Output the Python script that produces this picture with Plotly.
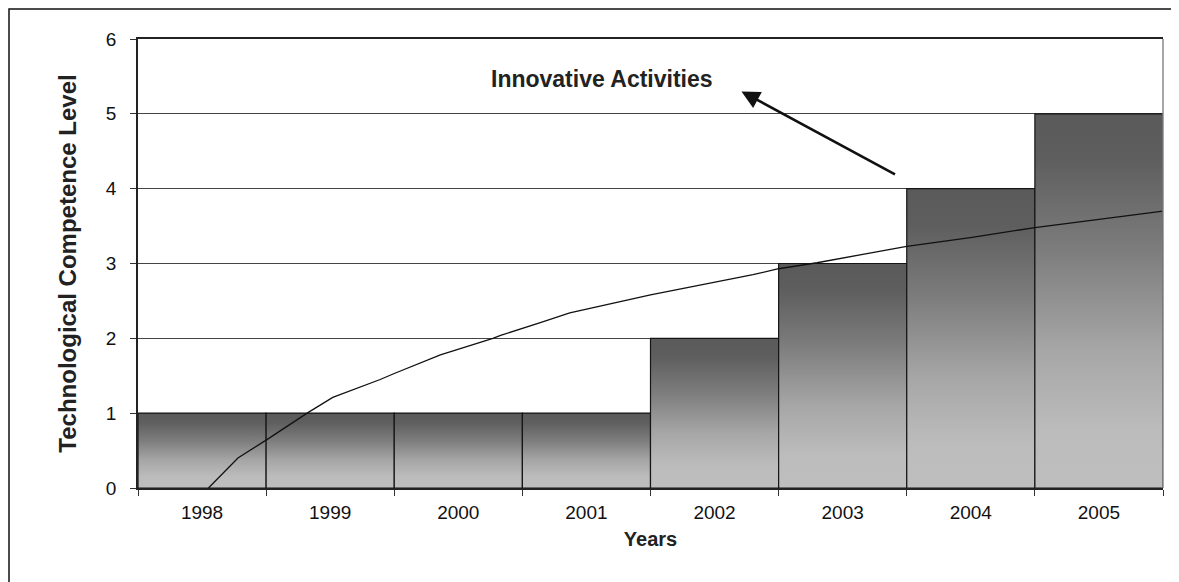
import plotly.graph_objects as go

# ---- data ----
years = ["1998", "1999", "2000", "2001", "2002", "2003", "2004", "2005"]
competence = [1, 1, 1, 1, 2, 3, 4, 5]

# innovative-activities curve (x in year-slot units, 0 = 1998)
trend_x = [0.05, 0.28, 0.50, 0.82, 1.02, 1.24, 1.39, 1.50, 1.86, 2.27, 2.33, 2.64,
           2.87, 3.50, 4.30, 4.50, 4.80, 5.50, 5.84, 6.01, 6.50, 7.00, 7.50]
trend_y = [0.00, 0.40, 0.64, 1.00, 1.21, 1.35, 1.45, 1.53, 1.78, 2.00, 2.04, 2.21,
           2.34, 2.58, 2.85, 2.93, 3.01, 3.23, 3.31, 3.35, 3.48, 3.59, 3.70]

y_ticks = [0, 1, 2, 3, 4, 5, 6]

FONT = "Liberation Sans, Arial, sans-serif"
grad = [[0.0, "#bebebe"], [0.15, "#bcbcbc"], [0.37, "#a6a6a6"],
        [0.64, "#7c7c7c"], [0.88, "#5e5e5e"], [1.0, "#5a5a5a"]]

fig = go.Figure()
idx = list(range(len(years)))

# bars: one gradient-filled polygon per bar, built from the data
for i, v in zip(idx, competence):
    fig.add_trace(go.Scatter(
        x=[i - 0.5, i + 0.5, i + 0.5, i - 0.5, i - 0.5],
        y=[0, 0, v, v, 0],
        mode="lines", fill="toself",
        line=dict(color="#151515", width=1.2),
        fillgradient=dict(type="vertical", colorscale=grad),
        name=years[i], hoverinfo="skip", showlegend=False,
    ))

# curve
fig.add_trace(go.Scatter(
    x=trend_x, y=trend_y, mode="lines",
    line=dict(color="#111111", width=1.3),
    showlegend=False,
))

# label + arrow
fig.add_annotation(x=3.12, y=5.46, xref="x", yref="y", text="<b>Innovative Activities</b>",
                   showarrow=False, font=dict(family=FONT, size=23, color="#222222"))
fig.add_annotation(x=4.21, y=5.30, ax=5.42, ay=4.18, xref="x", yref="y",
                   axref="x", ayref="y", text="", showarrow=True,
                   arrowhead=2, arrowsize=1.4, arrowwidth=2.6, arrowcolor="#111111")

# plot area right border (grey) and outer frame
fig.add_shape(type="line", xref="paper", yref="paper", x0=1, x1=1, y0=0, y1=1,
              line=dict(color="#888888", width=1.5))
fig.add_shape(type="rect", xref="paper", yref="paper",
              x0=(9 - 138) / 1025, x1=(1190 - 138) / 1025,
              y0=(488 - 600) / 449, y1=(488 - 9) / 449,
              line=dict(color="#111111", width=1.5), fillcolor="rgba(0,0,0,0)", layer="above")

fig.update_layout(
    width=1171, height=574,
    margin=dict(l=130, r=16, t=31, b=94),
    paper_bgcolor="white", plot_bgcolor="white",
    font=dict(family=FONT, color="#111111"),
    xaxis=dict(
        range=[-0.5, 7.5], tickmode="array", tickvals=idx, ticktext=years,
        ticks="", showgrid=False, zeroline=False,
        showline=True, linecolor="#222222", linewidth=1.5, mirror=True,
        tickfont=dict(size=19, family=FONT, color="#111111"),
        ticklabelstandoff=6,
        minor=dict(tick0=0.5, dtick=1, ticks="outside", ticklen=6,
                   tickcolor="#333333", tickwidth=1.2, showgrid=False),
        title=dict(text="<b>Years</b>", font=dict(size=20, family=FONT, color="#222222"),
                   standoff=10),
    ),
    yaxis=dict(
        range=[0, 6], tickmode="array", tickvals=y_ticks,
        ticks="outside", ticklen=6, tickcolor="#333333", tickwidth=1.2,
        showgrid=True, gridcolor="#444444", gridwidth=1, zeroline=False,
        showline=True, linecolor="#222222", linewidth=1.5,
        tickfont=dict(size=19, family=FONT, color="#111111"),
        ticklabelstandoff=10,
        title=dict(text="<b>Technological Competence Level</b>",
                   font=dict(size=24, family=FONT, color="#222222"), standoff=22),
    ),
)

fig.write_html("out.html")
